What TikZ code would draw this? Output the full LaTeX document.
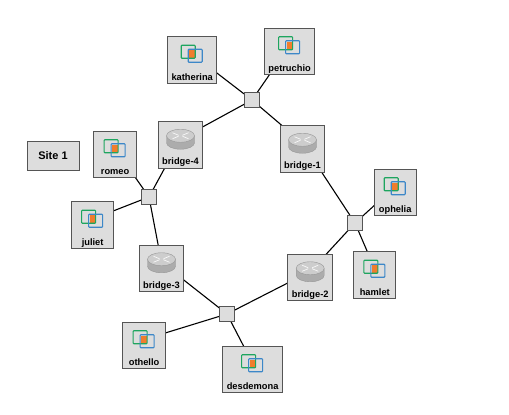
\documentclass[tikz,border=0pt]{standalone}
\usepackage{fontspec}
\setmainfont{Liberation Sans}
\usepackage{tikz}
\usepackage{xcolor}
\usetikzlibrary{backgrounds}
\definecolor{boxgray}{RGB}{221,221,221}
\definecolor{boxline}{RGB}{85,85,85}
\definecolor{hostgreen}{RGB}{30,165,95}
\definecolor{hostblue}{RGB}{60,135,200}
\definecolor{hostorange}{RGB}{240,125,45}
\definecolor{routertop}{RGB}{205,205,205}
\definecolor{routerside}{RGB}{172,172,172}
\definecolor{routerline}{RGB}{150,150,150}
\tikzset{
    nodebox/.style={draw=boxline, fill=boxgray, line width=1pt, minimum height=46.5pt, inner sep=0pt},
    switchbox/.style={draw=boxline, fill=boxgray, line width=1pt, minimum size=14.5pt, inner sep=0pt},
    sitebox/.style={draw=boxline, fill=boxgray, line width=1pt, minimum width=52pt, minimum height=29pt, inner sep=0pt, font=\bfseries\fontsize{11}{13}\selectfont},
    nodetext/.style={font=\bfseries\fontsize{9.3}{11}\selectfont, inner sep=0pt, anchor=base},
    link/.style={line width=1.1pt, black}
}
% host icon, drawn around the top of its box
\newcommand{\hosticon}[1]{
    \fill[hostorange] ([xshift=-3pt,yshift=-14pt]#1.north) rectangle ([xshift=3pt,yshift=-22pt]#1.north);
    \draw[hostgreen, line width=1.1pt, rounded corners=0.8pt] ([xshift=-11pt,yshift=-9pt]#1.north) rectangle ([xshift=3pt,yshift=-22pt]#1.north);
    \draw[hostblue, line width=1.1pt, rounded corners=0.8pt] ([xshift=-4pt,yshift=-13pt]#1.north) rectangle ([xshift=10pt,yshift=-26pt]#1.north);
}
% router icon
\newcommand{\routericon}[1]{
    \begin{scope}[shift={([yshift=-14.5pt]#1.north)}]
        \fill[routerside] (-14,0) -- (-14,7) arc[start angle=180, end angle=360, x radius=14pt, y radius=6.5pt] -- (14,0) -- cycle;
        \draw[routerline, line width=0.4pt] (-14,0) -- (-14,7) arc[start angle=180, end angle=360, x radius=14pt, y radius=6.5pt] -- (14,0);
        \fill[routertop, draw=routerline, line width=0.4pt] (0,0) ellipse[x radius=14pt, y radius=6.5pt];
        \draw[white!85!routertop, line width=0.7pt] (-8,-3) -- (-2,-0.5) (-8,3) -- (-2,0.5) (8,-3) -- (2,-0.5) (8,3) -- (2,0.5);
    \end{scope}
}
\begin{document}
\begin{tikzpicture}[x=1pt, y=-1pt]
    \useasboundingbox (0,0) rectangle (509,415);

    % switches
    \node[switchbox] (switch-top) at (252,100) {};
    \node[switchbox] (switch-left) at (149,197) {};
    \node[switchbox] (switch-bottom) at (227,314) {};
    \node[switchbox] (switch-right) at (355,223) {};

    % hosts and bridges
    \foreach \name/\px/\py/\boxw in {katherina/192.2/60/49, petruchio/289.6/51.5/50, romeo/115.1/154.5/43, juliet/92.6/225/42,
        othello/144.1/345.5/43, desdemona/252.6/369.5/60, ophelia/395.2/192.5/42, hamlet/374.8/275/42} {
        \node[nodebox, minimum width=\boxw pt] (\name) at (\px,\py) {};
        \hosticon{\name}
        \node[nodetext] (\name-text) at ([yshift=3.5pt]\name.south) {\name};
    }
    \foreach \name/\px/\py in {bridge-4/180.5/145, bridge-1/302.5/149, bridge-3/161.5/268.5, bridge-2/310.2/277.5} {
        \node[nodebox, minimum width=44.5pt] (\name) at (\px,\py) {};
        \routericon{\name}
        \node[nodetext] (\name-text) at ([yshift=4pt]\name.south) {\name};
    }

    \node[sitebox] (site) at (53,155.5) {Site 1};

    % links start behind the icon of each box
    \begin{scope}[on background layer]
    \foreach \a/\b in {katherina/switch-top, petruchio/switch-top, bridge-4/switch-top, bridge-1/switch-top,
        romeo/switch-left, juliet/switch-left, bridge-4/switch-left, bridge-3/switch-left,
        bridge-3/switch-bottom, bridge-2/switch-bottom, othello/switch-bottom, desdemona/switch-bottom,
        bridge-1/switch-right, bridge-2/switch-right, ophelia/switch-right, hamlet/switch-right} {
        \draw[link] ([yshift=6pt]\a.center) -- (\b);
    }
    \end{scope}
\end{tikzpicture}
\end{document}
